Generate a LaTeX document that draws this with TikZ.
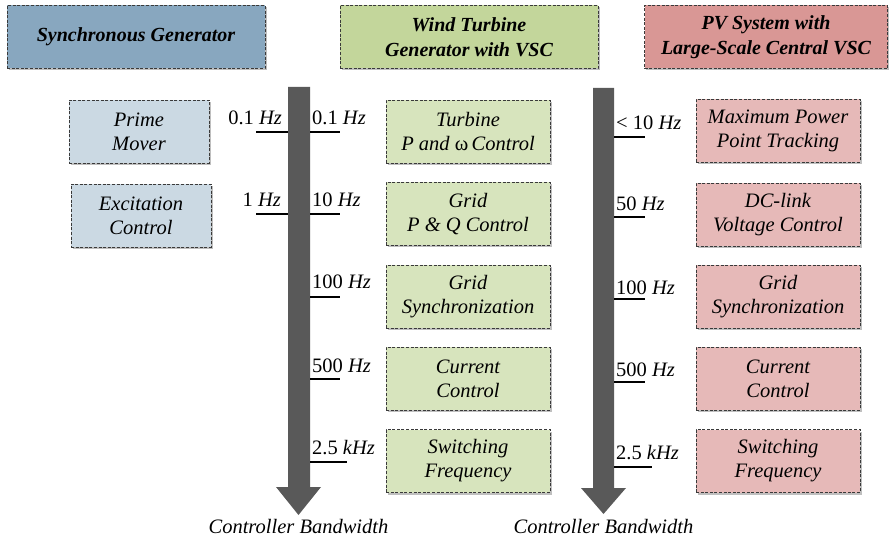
\documentclass[tikz,border=0pt]{standalone}
\usepackage{fontspec}
\setmainfont{Liberation Serif}
\usetikzlibrary{shadows}

\definecolor{sgHead}{HTML}{88A7BF}
\definecolor{sgBox}{HTML}{CBD9E3}
\definecolor{wtHead}{HTML}{C3D69B}
\definecolor{wtBox}{HTML}{D7E4BD}
\definecolor{pvHead}{HTML}{D99795}
\definecolor{pvBox}{HTML}{E6B9B8}
\definecolor{axis}{HTML}{595959}
\definecolor{frame}{HTML}{3A3A3A}

\tikzset{
  card/.style={draw=frame, line width=0.8pt, dash pattern=on 3pt off 1.6pt,
    drop shadow={shadow xshift=1.6pt, shadow yshift=-2pt, fill=black, opacity=0.25},
    align=center, inner sep=0pt},
  headbox/.style={card, minimum height=63, font=\fontsize{20}{25}\selectfont\bfseries\itshape},
  ctrlbox/.style={card, minimum width=164, minimum height=63, font=\fontsize{20.5}{24}\selectfont\itshape},
  sgbox/.style={card, fill=sgBox, minimum width=140, minimum height=63, font=\fontsize{20.5}{24}\selectfont\itshape},
  freq/.style={inner sep=0pt, font=\fontsize{20.5}{24}\selectfont},
  tick/.style={line width=1.8pt, black},
  bandlbl/.style={inner sep=0pt, font=\fontsize{20.5}{24}\selectfont\itshape},
}
\newcommand{\hz}[1]{#1 \textit{Hz}}

\begin{document}
\begin{tikzpicture}[x=1pt, y=-1pt]
\useasboundingbox (0,0) rectangle (895,540);

% column headers
\node[headbox, fill=sgHead, minimum width=258] (sg) at (136,37) {Synchronous Generator};
\node[headbox, fill=wtHead, minimum width=258] (wt) at (469,37) {Wind Turbine\\Generator with VSC};
\node[headbox, fill=pvHead, minimum width=243] (pv) at (766,37) {PV System with\\Large-Scale Central VSC};

% bandwidth axes
\fill[axis] (288,87) -- (310,87) -- (310,487) -- (321,487) -- (298.5,515)
  -- (276,487) -- (288,487) -- cycle;
\fill[axis] (593,88) -- (614,88) -- (614,488) -- (626,488) -- (603.5,514)
  -- (581,488) -- (593,488) -- cycle;
\node[bandlbl] (bwA) at (298.5,526) {Controller Bandwidth};
\node[bandlbl] (bwB) at (603.5,526) {Controller Bandwidth};

% synchronous generator controls
\node[sgbox] (pm) at (139,131.5) {Prime\\Mover};
\node[sgbox] (ex) at (141,215.5) {Excitation\\Control};

% wind turbine controls
\node[ctrlbox, fill=wtBox] (w1) at (468,131.5) {Turbine\\P and {\upshape ω}\,Control};
\node[ctrlbox, fill=wtBox] (w2) at (468,214) {Grid\\P \& Q Control};
\node[ctrlbox, fill=wtBox] (w3) at (468,296.5) {Grid\\Synchronization};
\node[ctrlbox, fill=wtBox] (w4) at (468,378.5) {Current\\Control};
\node[ctrlbox, fill=wtBox] (w5) at (468,461) {Switching\\Frequency};

% PV controls
\node[ctrlbox, fill=pvBox] (p1) at (778,130.5) {Maximum Power\\Point Tracking};
\node[ctrlbox, fill=pvBox] (p2) at (778,214.5) {DC-link\\Voltage Control};
\node[ctrlbox, fill=pvBox] (p3) at (778,296.5) {Grid\\Synchronization};
\node[ctrlbox, fill=pvBox] (p4) at (778,378.5) {Current\\Control};
\node[ctrlbox, fill=pvBox] (p5) at (778,461) {Switching\\Frequency};

% ticks and bandwidth values, synchronous generator side
\draw[tick] (256,132) -- (288,132);
\draw[tick] (256,214) -- (288,214);
\node[freq, anchor=base east] (f1) at (282,125) {\hz{0.1}};
\node[freq, anchor=base east] (f2) at (281,207) {\hz{1}};

% ticks and bandwidth values, wind turbine side
\draw[tick] (310,132) -- (340,132);
\draw[tick] (310,214) -- (340,214);
\draw[tick] (310,297) -- (340,297);
\draw[tick] (310,379) -- (340,379);
\draw[tick] (310,462) -- (347,462);
\node[freq, anchor=base west] (g1) at (312,125) {\hz{0.1}};
\node[freq, anchor=base west] (g2) at (312,207) {\hz{10}};
\node[freq, anchor=base west] (g3) at (312,289) {\hz{100}};
\node[freq, anchor=base west] (g4) at (312,372) {\hz{500}};
\node[freq, anchor=base west] (g5) at (312,454) {2.5 \textit{kHz}};

% ticks and bandwidth values, PV side
\draw[tick] (614,137) -- (645,137);
\draw[tick] (614,217) -- (645,217);
\draw[tick] (614,299) -- (645,299);
\draw[tick] (614,382) -- (645,382);
\draw[tick] (614,467) -- (652,467);
\node[freq, anchor=base west] (h1) at (616,130) {< \hz{10}};
\node[freq, anchor=base west] (h2) at (616,211) {\hz{50}};
\node[freq, anchor=base west] (h3) at (616,295) {\hz{100}};
\node[freq, anchor=base west] (h4) at (616,377) {\hz{500}};
\node[freq, anchor=base west] (h5) at (616,459) {2.5 \textit{kHz}};
\end{tikzpicture}
\end{document}
